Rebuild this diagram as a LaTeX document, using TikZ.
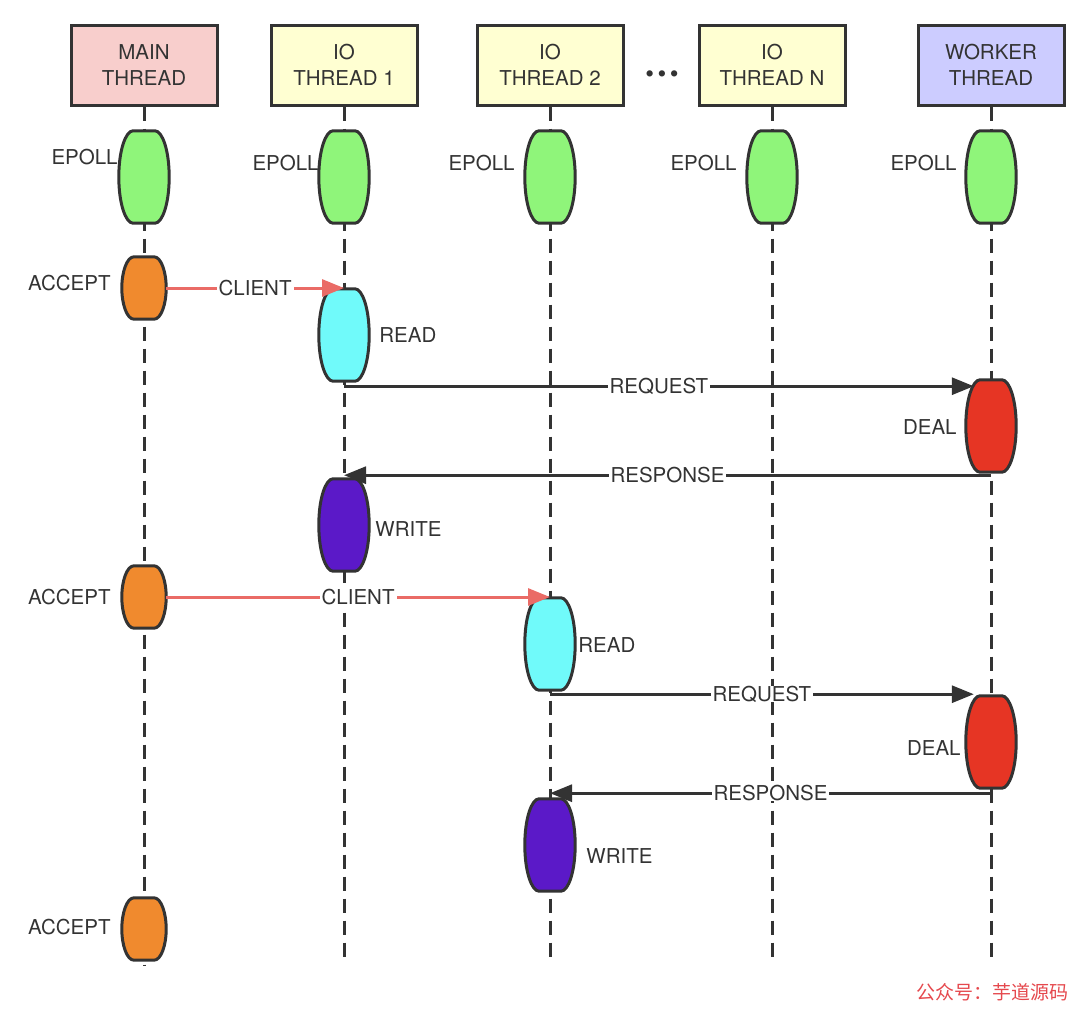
\documentclass[tikz,border=0pt]{standalone}
\usepackage{fontspec}
\setmainfont{TeX Gyre Heros}
\newfontfamily\cjk{Noto Sans CJK SC}
\usepackage{tikz}
\usetikzlibrary{positioning,calc,arrows.meta}

\definecolor{ink}{HTML}{333333}
\definecolor{mainpink}{HTML}{F8CECC}
\definecolor{ioyellow}{HTML}{FFFFD2}
\definecolor{workblue}{HTML}{CCCCFF}
\definecolor{epgreen}{HTML}{8FF57A}
\definecolor{accorange}{HTML}{F08A2E}
\definecolor{readcyan}{HTML}{70FAFA}
\definecolor{dealred}{HTML}{E63524}
\definecolor{writepurple}{HTML}{5B19C8}
\definecolor{clientred}{HTML}{EA6B66}
\definecolor{markred}{HTML}{E5484D}

\tikzset{
	txt/.style={text=ink, font=\fontsize{20.5}{26}\selectfont},
	thread/.style={txt, draw=ink, line width=3pt, minimum width=146pt, minimum height=80pt, align=center},
	life/.style={draw=ink, line width=3pt, dash pattern=on 14pt off 8pt},
	act/.style={minimum width=50pt, minimum height=92pt, inner sep=0pt},
	accbox/.style={act, minimum width=44pt, minimum height=62pt},
	outline/.style={draw=ink, line width=3pt},
	lbl/.style={txt, inner sep=0pt},
	lab/.style={txt, fill=white, inner xsep=2pt, inner ysep=0pt},
	msg/.style={line width=3pt, color=ink},
	cmsg/.style={line width=3pt, color=clientred},
}

% barrel shaped activation: node, fill, half flat top, corner pull, side pull
\newcommand{\barrel}[5]{%
	\draw[outline, fill=#2] ([xshift=-#3]#1.north) -- ([xshift=#3]#1.north)
	.. controls ([xshift=-#4]#1.north east) and ([yshift=#5]#1.east) .. (#1.east)
	.. controls ([yshift=-#5]#1.east) and ([xshift=-#4]#1.south east) .. ([xshift=#3]#1.south)
	-- ([xshift=-#3]#1.south)
	.. controls ([xshift=#4]#1.south west) and ([yshift=-#5]#1.west) .. (#1.west)
	.. controls ([yshift=#5]#1.west) and ([xshift=#4]#1.north west) .. cycle;}

\begin{document}
\begin{tikzpicture}[x=1pt, y=-1pt, >={Triangle[length=22pt,width=17pt]}]
	\useasboundingbox (0,0) rectangle (1080,1010);
	% thread heads
	\node[thread, fill=mainpink] (main) at (144,65) {MAIN\\THREAD};
	\node[thread, fill=ioyellow] (io1) at (344,65) {IO\\THREAD 1};
	\node[thread, fill=ioyellow] (io2) at (550,65) {IO\\THREAD 2};
	\node[thread, fill=ioyellow] (ioN) at (772,65) {IO\\THREAD N};
	\node[thread, fill=workblue] (work) at (991,65) {WORKER\\THREAD};
	\node[lbl, font=\fontsize{25}{25}\selectfont] (dots) at (662,77) {\textbullet\kern3.5pt\textbullet\kern3.5pt\textbullet};
	
	% life lines
	\foreach \t/\e in {main/966, io1/964, io2/964, ioN/957, work/957} {
		\coordinate (\t-end) at (\t.south |- 0,\e);
		\draw[life] (\t.south) -- (\t-end);
	}
	
	% epoll
	\foreach \t/\n in {main/0, io1/1, io2/2, ioN/3, work/4} {
		\node[act] (ep\n) at (\t.south |- 0,177) {};
		\barrel{ep\n}{epgreen}{11pt}{7pt}{27pt}
	}
	\node[lbl, left=1pt of ep0.west, yshift=20pt] (ep0l) {EPOLL};
	\node[lbl, left=0pt of ep1.west, yshift=14pt] (ep1l) {EPOLL};
	\node[lbl, left=10pt of ep2.west, yshift=14pt] (ep2l) {EPOLL};
	\node[lbl, left=10pt of ep3.west, yshift=14pt] (ep3l) {EPOLL};
	\node[lbl, left=9pt of ep4.west, yshift=14pt] (ep4l) {EPOLL};
	
	% first client
	\node[accbox] (acc1) at (main.south |- 0,288) {};
	\node[act] (read1) at (io1.south |- 0,335) {};
	\node[act] (deal1) at (work.south |- 0,426) {};
	\node[act] (write1) at (io1.south |- 0,525) {};
	\node[lbl, left=11pt of acc1.west, yshift=5pt] (acc1l) {ACCEPT};
	\node[lbl, right=10pt of read1.east] (read1l) {READ};
	\node[lbl, left=9pt of deal1.west, yshift=-1pt] (deal1l) {DEAL};
	\node[lbl, right=6pt of write1.east, yshift=-4pt] (write1l) {WRITE};
	
	% second client
	\node[accbox] (acc2) at (main.south |- 0,597) {};
	\node[act] (read2) at (io2.south |- 0,644) {};
	\node[act] (deal2) at (work.south |- 0,742) {};
	\node[act] (write2) at (io2.south |- 0,845) {};
	\node[lbl, left=11pt of acc2.west] (acc2l) {ACCEPT};
	\node[lbl, right=3pt of read2.east, yshift=-1pt] (read2l) {READ};
	\node[lbl, left=5pt of deal2.west, yshift=-6pt] (deal2l) {DEAL};
	\node[lbl, right=11pt of write2.east, yshift=-11pt] (write2l) {WRITE};
	
	% third client
	\node[accbox] (acc3) at (main.south |- 0,929) {};
	\node[lbl, left=11pt of acc3.west, yshift=2pt] (acc3l) {ACCEPT};
	
	\foreach \a in {acc1, acc2, acc3} {
		\barrel{\a}{accorange}{10pt}{5pt}{16pt}
	}
	\foreach \a/\c in {read1/readcyan, read2/readcyan, deal1/dealred, deal2/dealred, write1/writepurple, write2/writepurple} {
		\barrel{\a}{\c}{11pt}{7pt}{27pt}
	}
	
	% messages
	\path[->, cmsg]
	(acc1.east) edge node[lab] (cl1) {CLIENT} (acc1.east -| read1.north)
	(acc2.east) edge node[lab] (cl2) {CLIENT} (acc2.east -| read2.north)
	;
	\path[->, msg]
	(read1.south) +(0,5) edge node[lab] (rq1) {REQUEST} ($(read1.south -| deal1.west)+(8,5)$)
	(deal1.south) +(0,3) edge node[lab] (rs1) {RESPONSE} ($(deal1.south -| read1.south)+(0,3)$)
	(read2.south) +(0,4) edge node[lab] (rq2) {REQUEST} ($(read2.south -| deal2.west)+(8,4)$)
	(deal2.south) +(0,5) edge node[lab] (rs2) {RESPONSE} ($(deal2.south -| read2.south)+(0,5)$)
	;
	
	\node[text=markred, font=\cjk\fontsize{19}{19}\selectfont] (mark) at (992,992) {公众号：芋道源码};
\end{tikzpicture}
\end{document}
